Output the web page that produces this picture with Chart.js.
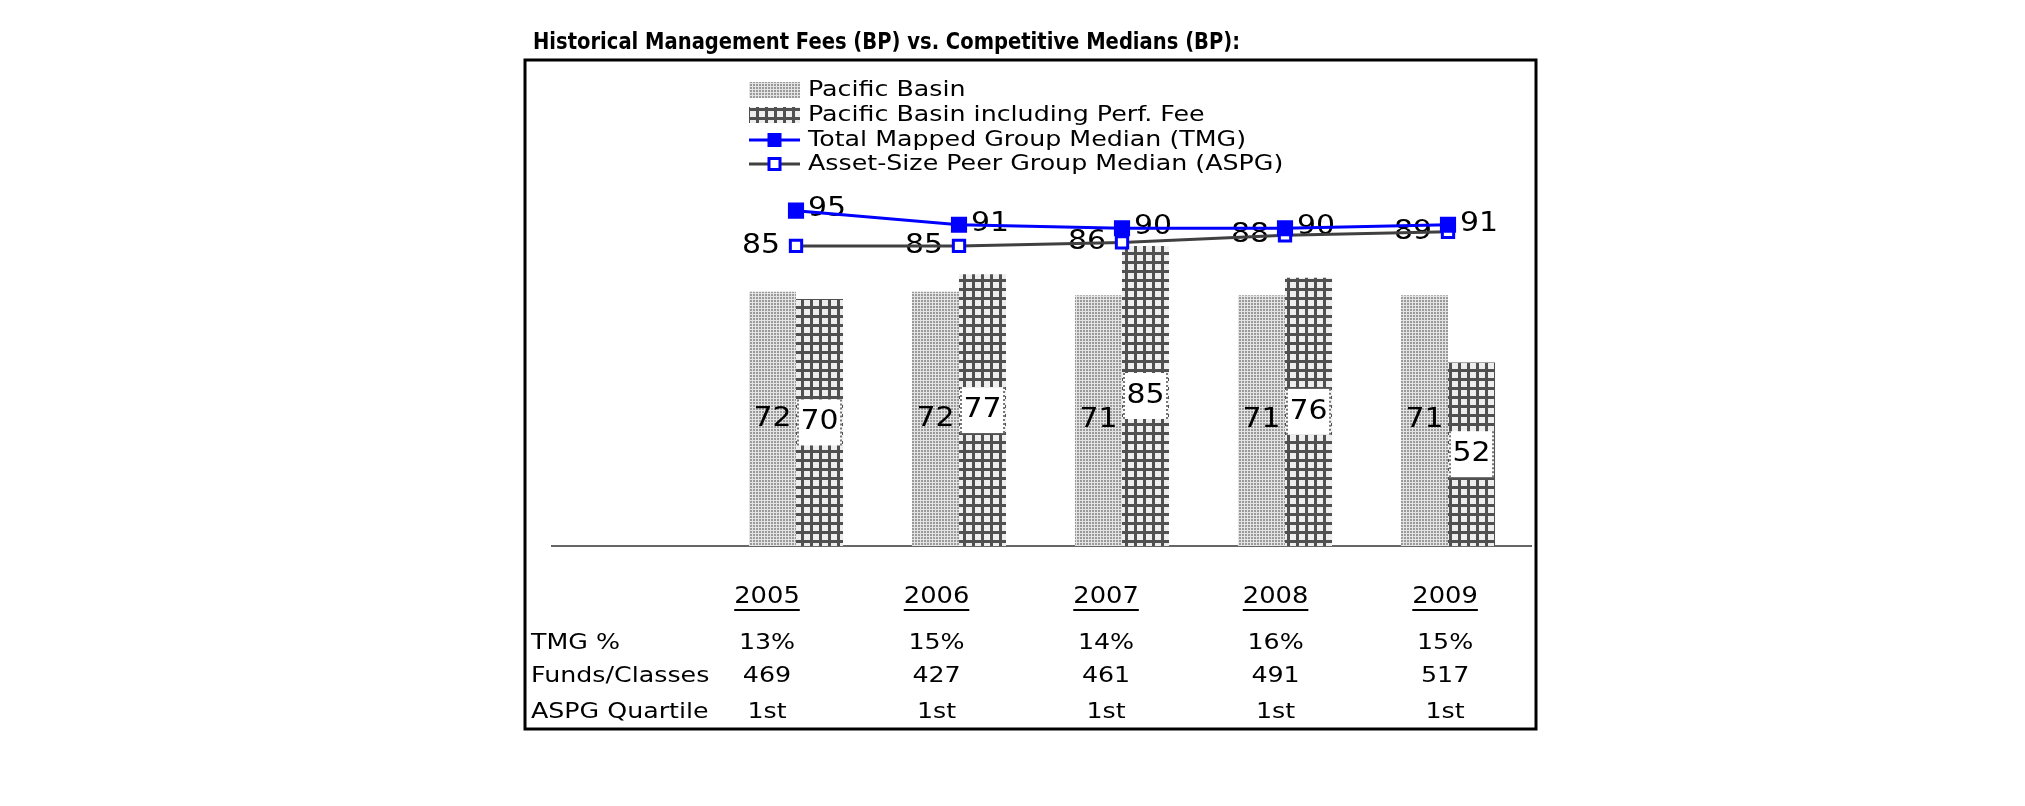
<!DOCTYPE html>
<html>
<head>
<meta charset="utf-8">
<script src="https://cdn.jsdelivr.net/npm/chart.js@4.4.1/dist/chart.umd.min.js"></script>
<style>
  html, body { margin: 0; padding: 0; background: #fff; }
</style>
</head>
<body>
<canvas id="feesChart" width="2025" height="806"></canvas>
<script>
// data
const years = ['2005', '2006', '2007', '2008', '2009'];
const pacificBasin = [72, 72, 71, 71, 71];
const pacificBasinPerf = [70, 77, 85, 76, 52];
const tmgMedian = [95, 91, 90, 90, 91];
const aspgMedian = [85, 85, 86, 88, 89];

// table under the chart
const rowLabels = ['TMG %', 'Funds/Classes', 'ASPG Quartile'];
const tmgPct = ['13%', '15%', '14%', '16%', '15%'];
const fundsClasses = ['469', '427', '461', '491', '517'];
const aspgQuartile = ['1st', '1st', '1st', '1st', '1st'];

const chartTitle = 'Historical Management Fees (BP) vs. Competitive Medians (BP):';
const FONT = '"DejaVu Sans", Verdana, sans-serif';

const canvas = document.getElementById('feesChart');
const mainCtx = canvas.getContext('2d');

// fill patterns for the two bar series
function stipple() {
    const c = document.createElement('canvas');
    c.width = 3; c.height = 3;
    const g = c.getContext('2d');
    g.fillStyle = '#e4e4e4';
    g.fillRect(0, 0, 3, 3);
    g.fillStyle = '#9a9a9a';
    g.fillRect(0, 0, 2, 2);
    return mainCtx.createPattern(c, 'repeat');
}

function grid() {
    const c = document.createElement('canvas');
    c.width = 9; c.height = 9;
    const g = c.getContext('2d');
    g.fillStyle = '#eeeeee';
    g.fillRect(0, 0, 9, 9);
    g.fillStyle = '#505050';
    g.fillRect(0, 0, 9, 3);
    g.fillRect(0, 0, 3, 9);
    return mainCtx.createPattern(c, 'repeat');
}

const pbFill = stipple();
const perfFill = grid();

// text helper, sx stretches the glyphs horizontally
function txt(ctx, s, x, y, font, align, sx) {
    ctx.save();
    ctx.font = font;
    ctx.fillStyle = '#000';
    ctx.textAlign = align;
    ctx.textBaseline = 'middle';
    ctx.translate(x, y);
    ctx.scale(sx, 1);
    ctx.fillText(s, 0, 0);
    const w = ctx.measureText(s).width * sx;
    ctx.restore();
    return w;
}

const decor = {
    id: 'decor',
    beforeDraw(chart) {
        const ctx = chart.ctx;
        ctx.save();
        ctx.fillStyle = '#fff';
        ctx.fillRect(0, 0, chart.width, chart.height);
        ctx.strokeStyle = '#000';
        ctx.lineWidth = 3;
        ctx.strokeRect(525, 60, 1011, 669);
        ctx.restore();
        txt(ctx, chartTitle, 533, 43, 'bold 23px ' + FONT, 'left', 0.85);
    },
    beforeDatasetsDraw(chart) {
        // base line, longer than the plot area like the original
        const ctx = chart.ctx;
        const y0 = chart.scales.y.getPixelForValue(0);
        ctx.save();
        ctx.strokeStyle = '#333';
        ctx.lineWidth = 1.5;
        ctx.beginPath();
        ctx.moveTo(551, y0);
        ctx.lineTo(1532, y0);
        ctx.stroke();
        ctx.restore();
    },
    beforeDatasetDraw(chart, args) {
        // labels go on top of the bars but under the lines
        if (args.index !== 3) return;
        const ctx = chart.ctx;
        const lblFont = '26px ' + FONT;
        const pb = chart.getDatasetMeta(0).data;
        const perf = chart.getDatasetMeta(1).data;
        const tmg = chart.getDatasetMeta(2).data;
        const aspg = chart.getDatasetMeta(3).data;
        for (let i = 0; i < years.length; i++) {
            let el = pb[i];
            txt(ctx, String(pacificBasin[i]), el.x, (el.y + el.base) / 2, lblFont, 'center', 1.15);

            el = perf[i];
            const mid = (el.y + el.base) / 2;
            const w = el.width - 2;
            ctx.save();
            ctx.fillStyle = '#fff';
            ctx.fillRect(el.x - w / 2, mid - 23, w, 46);
            ctx.strokeStyle = '#777';
            ctx.lineWidth = 2;
            ctx.setLineDash([2, 2]);
            ctx.beginPath();
            ctx.moveTo(el.x - w / 2 + 1, mid - 23);
            ctx.lineTo(el.x - w / 2 + 1, mid + 23);
            ctx.moveTo(el.x + w / 2 - 1, mid - 23);
            ctx.lineTo(el.x + w / 2 - 1, mid + 23);
            ctx.stroke();
            ctx.restore();
            txt(ctx, String(pacificBasinPerf[i]), el.x, mid, lblFont, 'center', 1.15);

            txt(ctx, String(tmgMedian[i]), tmg[i].x + 12, tmg[i].y - 1, lblFont, 'left', 1.15);
            txt(ctx, String(aspgMedian[i]), aspg[i].x - 16, aspg[i].y, lblFont, 'right', 1.15);
        }
    },
    afterDraw(chart) {
        const ctx = chart.ctx;
        const ds = chart.data.datasets;

        // legend, one item per row
        const lx = 749, lw = 51, ly = [90, 115, 140, 164];
        ctx.save();
        ctx.fillStyle = pbFill;
        ctx.fillRect(lx, ly[0] - 8, lw, 16);
        ctx.fillStyle = perfFill;
        ctx.fillRect(lx, ly[1] - 8, lw, 16);
        for (let k = 2; k < 4; k++) {
            ctx.strokeStyle = ds[k].borderColor;
            ctx.lineWidth = 3;
            ctx.beginPath();
            ctx.moveTo(lx, ly[k]);
            ctx.lineTo(lx + lw, ly[k]);
            ctx.stroke();
        }
        ctx.fillStyle = '#0000ff';
        ctx.fillRect(lx + lw / 2 - 7, ly[2] - 7, 14, 14);
        ctx.fillStyle = '#fff';
        ctx.strokeStyle = '#0000ff';
        ctx.lineWidth = 3;
        ctx.fillRect(lx + lw / 2 - 5.5, ly[3] - 5.5, 11, 11);
        ctx.strokeRect(lx + lw / 2 - 5.5, ly[3] - 5.5, 11, 11);
        ctx.restore();
        for (let k = 0; k < 4; k++) {
            txt(ctx, ds[k].label, 808, ly[k], '22px ' + FONT, 'left', 1.15);
        }

        // table under the axis, its columns are a bit wider apart than the bars
        const x = chart.scales.x;
        const rows = [tmgPct, fundsClasses, aspgQuartile];
        const rowY = [643, 676, 712];
        for (let r = 0; r < rows.length; r++) {
            txt(ctx, rowLabels[r], 531, rowY[r], '22px ' + FONT, 'left', 1.15);
        }
        const x0 = x.getPixelForValue(0);
        for (let i = 0; i < years.length; i++) {
            const cx = 767 + (x.getPixelForValue(i) - x0) * 1.04;
            const w = txt(ctx, years[i], cx, 597, '23px ' + FONT, 'center', 1.12);
            ctx.fillStyle = '#000';
            ctx.fillRect(cx - w / 2, 609, w, 2);
            for (let r = 0; r < rows.length; r++) {
                txt(ctx, rows[r][i], cx, rowY[r], '22px ' + FONT, 'center', 1.15);
            }
        }
    }
};

const chart = new Chart(canvas, {
    type: 'bar',
    data: {
        labels: years,
        datasets: [
            {
                label: 'Pacific Basin',
                data: pacificBasin,
                backgroundColor: pbFill,
                borderWidth: 0,
                order: 1
            },
            {
                label: 'Pacific Basin including Perf. Fee',
                data: pacificBasinPerf,
                backgroundColor: perfFill,
                borderWidth: 0,
                order: 1
            },
            {
                type: 'line',
                label: 'Total Mapped Group Median (TMG)',
                data: tmgMedian,
                borderColor: '#0000ff',
                borderWidth: 3,
                pointStyle: 'rect',
                pointRadius: 10,
                pointBackgroundColor: '#0000ff',
                pointBorderColor: '#0000ff',
                pointBorderWidth: 2,
                tension: 0,
                clip: false,
                order: 0
            },
            {
                type: 'line',
                label: 'Asset-Size Peer Group Median (ASPG)',
                data: aspgMedian,
                borderColor: '#404040',
                borderWidth: 3,
                pointStyle: 'rect',
                pointRadius: 8,
                pointBackgroundColor: '#fff',
                pointBorderColor: '#0000ff',
                pointBorderWidth: 3,
                tension: 0,
                clip: false,
                order: 0
            }
        ]
    },
    options: {
        responsive: false,
        animation: false,
        devicePixelRatio: 1,
        layout: {
            padding: { left: 714.5, right: 495.5, top: 193, bottom: 260 }
        },
        datasets: {
            bar: { categoryPercentage: 0.577, barPercentage: 1.0 }
        },
        scales: {
            x: { display: false, offset: true },
            y: { display: false, min: 0, max: 100 }
        },
        plugins: {
            legend: { display: false },
            tooltip: { enabled: false }
        }
    },
    plugins: [decor]
});
</script>
</body>
</html>
